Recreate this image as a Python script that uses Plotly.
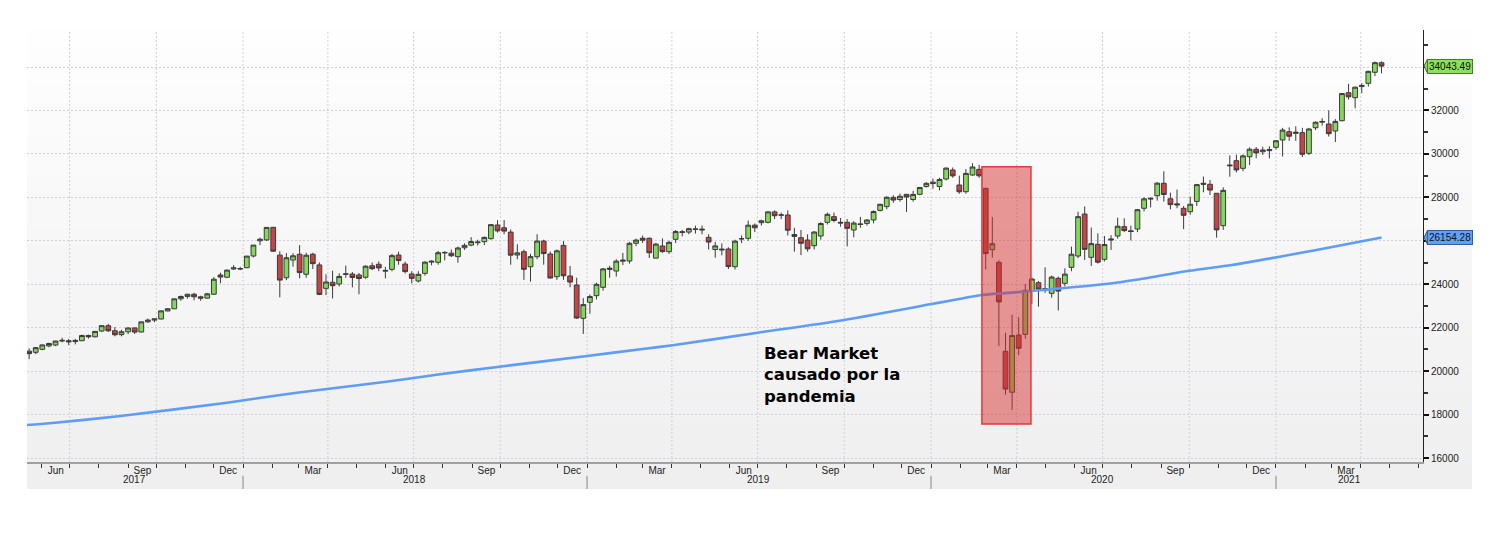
import pandas as pd
import plotly.graph_objects as go

# ── Data ─────────────────────────────────────────────────────────────
# Weekly Dow Jones candles (week ending Friday), May 2017 – Apr 2021
week_end = pd.date_range("2017-05-19", "2021-04-23", freq="W-FRI")

open_2017 = [20920, 20866, 21005, 21160, 21200, 21420, 21400, 21360, 21400, 21640, 21580,
             21847, 22090, 21860, 21680, 21810, 21990, 21800, 22270, 22350, 22400, 22770,
             22870, 23330, 23440, 23540, 23420, 23360, 23540, 24425, 24320, 24700, 24700]
high_2017 = [21050, 21112, 21225, 21305, 21392, 21535, 21480, 21480, 21681, 21681, 21843,
             22100, 22180, 22030, 21900, 22000, 22000, 22275, 22420, 22420, 22780, 22905,
             23330, 23485, 23560, 23602, 23470, 23600, 24330, 24535, 24670, 24876, 24800]
low_2017 = [20550, 20780, 20960, 21100, 21150, 21330, 21200, 21230, 21380, 21500, 21560,
            21800, 21800, 21600, 21600, 21700, 21710, 21790, 22220, 22250, 22390, 22760,
            22860, 23240, 23340, 23260, 23240, 23340, 23510, 24050, 24300, 24660, 24650]
close_2017 = [20805, 21080, 21206, 21272, 21384, 21395, 21350, 21414, 21638, 21580, 21830,
              22093, 21858, 21675, 21814, 21988, 21798, 22268, 22350, 22405, 22774, 22872,
              23329, 23434, 23539, 23422, 23358, 23558, 24232, 24329, 24652, 24755, 24719]

open_2018 = [24760, 25300, 26000, 26040, 26620, 25340, 24300, 25116, 25380, 24460, 25380,
             24890, 23810, 24090, 24010, 24480, 24470, 24425, 24320, 24850, 24920, 24600,
             24685, 25346, 24930, 24470, 24150, 24500, 25019, 25010, 25440, 25430, 25268,
             25680, 25800, 25950, 25960, 26100, 26727, 26600, 26400, 25346, 25498, 24806,
             25268, 25990, 25392, 24347, 25788, 24380, 23965, 22432]
high_2018 = [25300, 25804, 26153, 26617, 26640, 25520, 25432, 25430, 25800, 25450, 25450,
             25000, 24460, 24620, 24500, 24858, 24560, 24520, 24870, 25000, 25050, 24800,
             25400, 25500, 25040, 24600, 24600, 25050, 25100, 25530, 25520, 25600, 25730,
             25880, 26170, 26050, 26200, 26770, 26950, 26957, 26520, 25840, 25600, 25400,
             26300, 26050, 25500, 25600, 25980, 24840, 24300, 23360]
low_2018 = [24740, 25235, 25800, 25990, 25500, 23400, 24190, 24810, 24270, 24300, 24700,
            23500, 23500, 23344, 23900, 24300, 23860, 23540, 24250, 24650, 24600, 24270,
            24600, 24900, 24500, 24040, 24080, 24400, 24870, 24900, 25100, 25250, 24990,
            25580, 25750, 25780, 25800, 26050, 26380, 26300, 24900, 25150, 24200, 24122,
            25150, 24900, 24270, 24200, 24200, 23860, 22400, 21712]
close_2018 = [25296, 25803, 26072, 26617, 25521, 24191, 25219, 25310, 24538, 25336, 24947,
              23533, 24103, 23933, 24360, 24463, 24311, 24263, 24831, 24715, 24753, 24635,
              25317, 25090, 24581, 24271, 24456, 25019, 25058, 25451, 25463, 25313, 25669,
              25790, 25965, 25917, 26155, 26744, 26458, 26447, 25340, 25444, 24688, 25271,
              25989, 25413, 24286, 25538, 24389, 24101, 22445, 23062]

open_2019 = [23168, 23474, 23858, 24680, 24609, 25060, 25070, 25885, 26120, 26115, 25200,
             25760, 25500, 26068, 26380, 26400, 26520, 26540, 26160, 25600, 25620, 25622,
             24808, 26100, 26115, 26720, 26834, 26850, 27330, 27180, 27188, 26200, 26143,
             26036, 25775, 26220, 26850, 27112, 26850, 26850, 26497, 26750, 26800, 26960,
             27400, 27574, 28000, 27900, 28140, 27900, 28140, 28500]
high_2019 = [23530, 24070, 24750, 24850, 25150, 25440, 25950, 26100, 26240, 26150, 25900,
             26110, 26000, 26500, 26500, 26600, 26700, 26700, 26300, 25950, 25880, 25700,
             26050, 26250, 26925, 26800, 26970, 27350, 27400, 27300, 27400, 26600, 26500,
             26300, 26450, 26850, 27300, 27300, 27050, 27000, 26900, 27100, 27000, 27400,
             27700, 28050, 28100, 28175, 28150, 28300, 28470, 28700]
low_2019 = [22640, 23300, 23700, 24300, 24350, 24880, 24950, 25750, 25900, 25208, 25200,
            25450, 25400, 25900, 26200, 26300, 26330, 26300, 25600, 25222, 25330, 24700,
            24680, 25900, 26000, 26400, 26700, 26800, 27000, 27000, 26240, 25500, 25340,
            25500, 25600, 26050, 26750, 26850, 26650, 25743, 26160, 26600, 26700, 26800,
            27350, 27450, 27750, 27800, 27325, 27800, 28100, 28450]
close_2019 = [23433, 23996, 24706, 24737, 25064, 25106, 25883, 26032, 26026, 25450, 25849,
              25502, 25929, 26425, 26412, 26560, 26543, 26505, 25942, 25764, 25586, 24815,
              25984, 26090, 26719, 26600, 26922, 27332, 27154, 27192, 26485, 26287, 25886,
              25629, 26403, 26797, 27220, 26935, 26820, 26574, 26817, 26770, 26958, 27347,
              27681, 28005, 27876, 28051, 28015, 28135, 28455, 28645]

open_2020 = [28700, 28500, 28845, 29260, 28569, 28260, 29029, 29290, 28417, 25590, 25010,
             20912, 19028, 21663, 21695, 23700, 24071, 23800, 23582, 24273, 24042, 24779,
             25300, 27232, 25240, 25838, 25148, 26036, 26220, 26649, 26460, 26543, 27496,
             27960, 28076, 28647, 27933, 27700, 27496, 27340, 27814, 28650, 28601, 28187,
             26696, 29450, 29688, 29337, 29871, 30212, 30100, 30150, 30304]
high_2020 = [28872, 28900, 29375, 29374, 29000, 29300, 29568, 29500, 28430, 27102, 25100,
             21769, 22595, 22480, 24009, 24300, 24150, 24779, 24400, 24350, 24733, 25729,
             27339, 27580, 26610, 26345, 26220, 26260, 27063, 27036, 26700, 27450, 28000,
             28000, 28700, 29199, 28215, 28360, 27600, 28030, 28620, 28958, 28800, 28200,
             28462, 29933, 29964, 29980, 30300, 30319, 30330, 30350, 30637]
low_2020 = [28400, 28320, 28780, 28900, 28170, 28170, 28990, 28900, 24681, 25226, 21154,
            18917, 18213, 20735, 21500, 23100, 22966, 23600, 23380, 22789, 23900, 24600,
            25200, 25116, 24843, 24950, 25050, 25576, 26100, 26400, 26014, 26400, 27350,
            27542, 27850, 27800, 27451, 27500, 26537, 27200, 27600, 28232, 28109, 26143,
            26500, 28950, 29150, 29200, 29490, 29800, 29950, 29797, 30200]
close_2020 = [28635, 28824, 29348, 28990, 28256, 29103, 29398, 28992, 25409, 25865, 23186,
              19174, 21637, 21053, 23719, 24242, 23775, 23724, 24331, 23685, 24465, 25383,
              27111, 25606, 25871, 25016, 25827, 26075, 26672, 26470, 26428, 27433, 27931,
              27930, 28654, 28133, 27666, 27657, 27174, 27683, 28587, 28606, 28336, 26502,
              28323, 29480, 29263, 29910, 30218, 30046, 30179, 30200, 30606]

open_2021 = [30640, 31023, 30945, 30980, 30028, 31206, 31460, 31377, 31055, 31529, 32820,
             32590, 33100, 33250, 33757, 34200]
high_2021 = [31200, 31223, 31272, 31200, 31200, 31500, 31643, 32009, 31600, 32793, 33227,
             33100, 33259, 33830, 34257, 34256]
low_2021 = [29881, 30600, 30600, 29856, 29950, 31100, 31300, 30800, 30547, 31500, 32500,
            32100, 32800, 33100, 33587, 33710]
close_2021 = [31098, 30814, 30997, 29983, 31148, 31458, 31494, 30932, 31496, 32779, 32628,
              33073, 33153, 33801, 34201, 34043.49]

opens = open_2017 + open_2018 + open_2019 + open_2020 + open_2021
highs = high_2017 + high_2018 + high_2019 + high_2020 + high_2021
lows = low_2017 + low_2018 + low_2019 + low_2020 + low_2021
closes = close_2017 + close_2018 + close_2019 + close_2020 + close_2021

# Long moving average (blue line)
ma_dates = ["2017-05-16", "2017-06-10", "2017-08-24", "2017-12-15", "2018-01-11",
            "2018-02-27", "2018-04-24", "2018-06-02", "2018-07-29", "2018-09-30",
            "2019-01-01", "2019-03-01", "2019-04-02", "2019-07-01", "2019-09-26",
            "2019-12-31", "2020-01-21", "2020-02-24", "2020-04-14", "2020-05-19",
            "2020-07-15", "2020-08-19", "2020-10-01", "2020-11-15", "2021-01-05",
            "2021-02-13", "2021-04-23"]
ma_values = [17519, 17598, 17934, 18546, 18716, 19006, 19300, 19513, 19854, 20204,
             20696, 21020, 21190, 21769, 22321, 23075, 23242, 23505, 23675, 23813,
             24071, 24301, 24620, 24886, 25268, 25576, 26154.28]

# Shaded crash window
crash_start, crash_end = "2020-02-24", "2020-04-16"
crash_low, crash_high = 17565, 29410

note_text = "Bear Market<br>causado por la<br>pandemia"
years = ["2017", "2018", "2019", "2020", "2021"]
year_centres = ["2017-09-08", "2018-07-02", "2019-07-02", "2020-07-01", "2021-03-20"]

X_RANGE = ["2017-05-16 18:00", "2021-06-06"]
Y_RANGE = [15816, 35705]
Y_TICKS = list(range(16000, 36000, 2000))
HIDDEN_TICKS = (26000, 34000)   # covered by the last-value tags

FONT = "Liberation Sans"
SMALL = 10

# ── Plot ─────────────────────────────────────────────────────────────
fig = go.Figure()

fig.add_trace(go.Candlestick(
    x=week_end, open=opens, high=highs, low=lows, close=closes,
    increasing=dict(line=dict(color="#3a3a3a", width=1), fillcolor="#84d95a"),
    decreasing=dict(line=dict(color="#3a3a3a", width=1), fillcolor="#c84444"),
    showlegend=False, hoverinfo="skip",
))

fig.add_trace(go.Scatter(
    x=ma_dates, y=ma_values, mode="lines",
    line=dict(color="#5e9cf5", width=2.6, shape="spline", smoothing=0.6),
    showlegend=False, hoverinfo="skip",
))

# ── Background: light vertical gradient over plot + label band ──────
shapes = []
n_bands = 24
for i in range(n_bands):
    t = i / n_bands
    c = int(240 + 15 * t)
    shapes.append(dict(
        type="rect", xref="paper", yref="paper", layer="below",
        x0=0, x1=1.0351, y0=t, y1=t + 1 / n_bands + 0.001,
        fillcolor=f"rgb({c},{c},{c})", line=dict(width=0),
    ))
shapes.append(dict(type="rect", xref="paper", yref="paper", layer="below",
                   x0=0, x1=1.0351, y0=-0.0625, y1=0,
                   fillcolor="#efefef", line=dict(width=0)))

# vertical dotted gridlines at quarter starts
for d in pd.date_range("2017-07-01", "2021-04-01", freq="QS"):
    shapes.append(dict(type="line", xref="x", yref="paper", layer="below",
                       x0=d, x1=d, y0=0, y1=1,
                       line=dict(color="#cfcfd8", width=1, dash="2px,2px")))

# year separators under the axis
for d in ["2018-01-01", "2019-01-01", "2020-01-01", "2021-01-01"]:
    shapes.append(dict(type="line", xref="x", yref="paper",
                       x0=d, x1=d, y0=-0.032, y1=-0.0625,
                       line=dict(color="#a8a8a8", width=1.5)))

# crash highlight
shapes.append(dict(type="rect", xref="x", yref="y", layer="above",
                   x0=crash_start, x1=crash_end, y0=crash_low, y1=crash_high,
                   fillcolor="rgba(214,50,50,0.5)",
                   line=dict(color="#e03a3a", width=1.5)))

# little arrow notches for the last-value tags
for val, col in [(closes[-1], "#8be05e"), (ma_values[-1], "#62a0f5")]:
    shapes.append(dict(type="path", xref="paper", yref="y",
                       path=f"M 1.0032,{val + 320} L 1.0007,{val} L 1.0032,{val - 320} Z",
                       fillcolor=col, line=dict(color="#333", width=0.8)))

annotations = []
for label, centre in zip(years, year_centres):
    annotations.append(dict(x=centre, xref="x", y=-0.0405, yref="paper",
                            text=label, showarrow=False,
                            font=dict(family=FONT, size=SMALL, color="#222"),
                            yanchor="middle"))

annotations.append(dict(x="2019-07-06", y=21350, xref="x", yref="y",
                        text=f"<b>{note_text}</b>", showarrow=False,
                        xanchor="left", yanchor="top", align="left",
                        font=dict(family="DejaVu Sans", size=16.5, color="#000")))

for val, bg, edge in [(closes[-1], "#8be05e", "#3f7f2a"),
                      (ma_values[-1], "#62a0f5", "#2b5eaa")]:
    annotations.append(dict(x=1, xref="paper", y=val, yref="y",
                            xanchor="left", xshift=4, text=f"{val:.2f}",
                            showarrow=False, bgcolor=bg, bordercolor=edge,
                            borderwidth=1, borderpad=1,
                            font=dict(family=FONT, size=SMALL, color="#111")))

# ── Formatting ───────────────────────────────────────────────────────
# page body adds an 8px margin, so the figure is sized to the window minus that
fig.update_layout(
    width=1502, height=526, autosize=False,
    margin=dict(l=19, r=87, t=22, b=72),
    paper_bgcolor="white", plot_bgcolor="rgba(0,0,0,0)",
    font=dict(family=FONT, size=SMALL, color="#222"),
    shapes=shapes, annotations=annotations,
    hovermode=False,
    boxgap=0.28, boxgroupgap=0,
    xaxis=dict(
        type="date", range=X_RANGE,
        rangeslider=dict(visible=False),
        tick0="2017-06-01", dtick="M3", tickformat="%b", ticklabelmode="period",
        ticks="outside", ticklen=4, tickcolor="#333", ticklabelstandoff=-6,
        minor=dict(dtick="M1", ticks="outside", ticklen=4, tickcolor="#333", showgrid=False),
        showgrid=False, zeroline=False,
        showline=True, linecolor="#a0a0a0", linewidth=2,
        tickfont=dict(size=SMALL, color="#222"),
    ),
    yaxis=dict(
        side="right", range=Y_RANGE,
        tickmode="array", tickvals=Y_TICKS,
        ticktext=["" if v in HIDDEN_TICKS else str(v) for v in Y_TICKS],
        ticks="outside", ticklen=5, tickwidth=2, tickcolor="#111",
        minor=dict(dtick=1000, tick0=0, ticks="outside", ticklen=4, tickcolor="#333",
                   showgrid=False),
        showgrid=True, gridcolor="#cfcfd8", griddash="2px,2px", gridwidth=1,
        zeroline=False, showline=True, linecolor="#222", linewidth=1,
        tickfont=dict(size=SMALL, color="#222"),
    ),
)

fig.write_html("out.html")
